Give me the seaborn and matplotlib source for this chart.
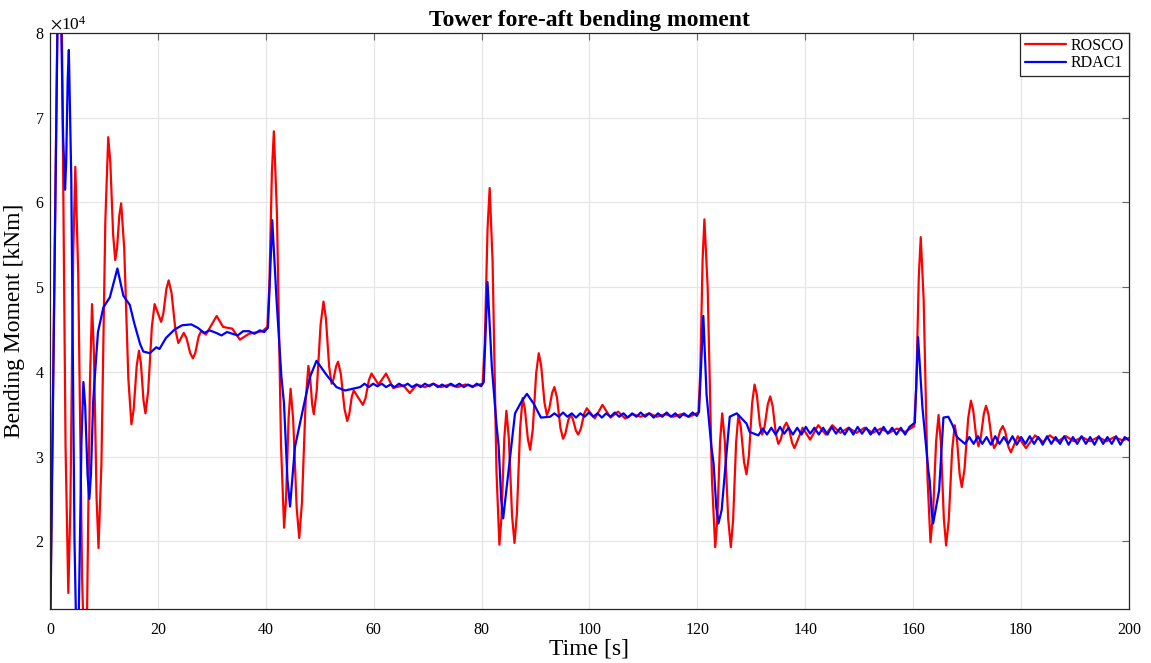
import numpy as np
import pandas as pd
import matplotlib
matplotlib.use("Agg")
import matplotlib.pyplot as plt
import seaborn as sns
from matplotlib.ticker import ScalarFormatter, MultipleLocator

# time [s] and fore-aft moment [kNm] (peaks, troughs, ripple)
ROSCO_T = [0.0, 1.7, 3.4, 4.7, 6.5, 7.8, 9.0, 10.8, 12.1, 13.2, 15.1, 16.5, 17.7, 19.4, 20.6, 22.0,
           23.8, 24.8, 26.5, 28.0, 28.9, 30.9, 32.1, 33.8, 35.2, 36.9, 39.4, 40.3,
           41.5, 43.4, 44.6, 46.2, 47.9, 48.9, 50.7, 52.2, 53.4, 55.1, 56.3, 58.0, 59.6, 60.9,
           62.3, 63.6, 65.5, 66.7, 68.0, 69.5, 71.0, 72.5, 74.0, 75.5, 77.0, 78.5, 80.2,
           81.5, 83.3, 84.6, 86.1, 87.6, 89.0, 90.6, 92.1, 93.5, 95.1, 96.5, 97.9, 99.5, 101.0,
           102.4, 103.9, 105.3, 106.6, 108.0, 109.5, 111.0, 112.5, 114.0, 115.5, 117.0, 118.5, 120.2,
           121.3, 123.3, 124.6, 126.2, 127.6, 129.1, 130.6, 132.0, 133.5, 135.0, 136.5, 138.0,
           139.5, 140.9, 142.4, 143.8, 145.0, 146.5, 148.0, 149.5, 151.0, 152.5, 154.0, 155.5,
           157.0, 158.5, 160.2,
           161.4, 163.2, 164.7, 166.1, 167.7, 169.0, 170.7, 172.1, 173.5, 175.0, 176.6, 178.1,
           179.4, 180.9, 182.6, 184.1, 185.3, 186.8, 188.3, 189.8, 191.3, 192.8, 194.3, 195.8,
           197.3, 198.8, 200.0]
ROSCO_M = [8000, 98000, 13900, 64200, 3000, 48000, 19200, 67700, 53200, 59900, 33800, 42500, 35100, 48000, 45900, 50800,
           43400, 44600, 41600, 44800, 44400, 46600, 45300, 45100, 43800, 44500, 44800, 45300,
           68400, 21600, 38000, 20400, 40700, 35000, 48300, 38600, 41200, 34200, 37800, 36100, 39800, 38500,
           39800, 38100, 38400, 37500, 38500, 38200, 38600, 38200, 38500, 38200, 38500, 38300, 38600,
           61700, 19600, 35400, 19800, 36900, 30800, 42200, 34900, 38200, 32100, 34900, 32600, 35700, 34500,
           36100, 34600, 35300, 34500, 35000, 34700, 35100, 34700, 35000, 34700, 35000, 34700, 35200,
           58000, 19300, 35100, 19300, 34900, 27900, 38500, 32600, 37100, 31500, 34000, 31000,
           33400, 32000, 33700, 32600, 33700, 32800, 33400, 32800, 33400, 32800, 33300, 32800,
           33300, 32900, 33600,
           55900, 19900, 34900, 19500, 33700, 26400, 36600, 31200, 36000, 31000, 33600, 30500,
           32400, 31000, 32500, 31700, 32500, 31800, 32400, 31800, 32300, 31800, 32300, 31800,
           32300, 31900, 32200]

# extra points on the flanks of the large ROSCO swings (so the waves look round)
ROSCO_FLANK_T = [2.21, 2.89, 3.79, 4.31, 5.24, 5.96, 6.89, 7.41, 8.16, 8.64, 9.54, 10.26,
                 11.19, 11.71, 12.43, 12.87, 13.77, 14.53, 15.52, 16.08, 16.86, 17.34, 18.21, 18.89,
                 21.02, 21.58, 22.54, 23.26, 25.31, 25.99, 26.95, 27.55,
                 40.66, 41.14, 42.07, 42.83, 43.76, 44.24, 45.08, 45.72, 46.71, 47.39, 48.2, 48.6,
                 49.44, 50.16, 51.15, 51.75, 52.56, 53.04, 53.91, 54.59, 55.46, 55.94, 58.48, 59.12,
                 80.59, 81.11, 82.04, 82.76, 83.69, 84.21, 85.05, 85.65, 86.55, 87.15, 88.02, 88.58,
                 89.48, 90.12, 91.05, 91.65, 92.52, 93.08, 93.98, 94.62, 95.52, 96.08, 96.92, 97.48,
                 98.38, 99.02,
                 120.53, 120.97, 121.9, 122.7, 123.69, 124.21, 125.08, 125.72, 126.62, 127.18,
                 128.05, 128.65, 129.55, 130.15, 131.02, 131.58, 132.45, 133.05, 133.95, 134.55,
                 135.45, 136.05, 136.95, 137.55,
                 160.56, 161.04, 161.94, 162.66, 163.65, 164.25, 165.12, 165.68, 166.58, 167.22,
                 168.09, 168.61, 169.51, 170.19, 171.12, 171.68, 172.52, 173.08, 173.95, 174.55,
                 175.48, 176.12, 177.05, 177.65]
ROSCO_FLANK_M = [80700, 31200, 24260, 53840, 51590, 15610, 12270, 38730, 42070, 25130, 29190, 57710,
                 64710, 56190, 54580, 58520, 54520, 39180, 35590, 40710, 40980, 36620, 37760, 45340,
                 46910, 49790, 49280, 44920, 43980, 42220, 42260, 44140,
                 50060, 63640, 58760, 31240, 24980, 34620, 34370, 24030, 24580, 36520, 39530, 36170,
                 37740, 45560, 46300, 40600, 39140, 40660, 39760, 35640, 34940, 37060, 36860, 39040,
                 43360, 56940, 53030, 28270, 22850, 32150, 32190, 23010, 23320, 33380, 35640, 32060,
                 33150, 39850, 40700, 36400, 35580, 37520, 36940, 33360, 32680, 34320, 34430, 33070,
                 33240, 35060,
                 39900, 53300, 50030, 27270, 22550, 31850, 31850, 22550, 22510, 31690,
                 33460, 29340, 30080, 36320, 37280, 33820, 33530, 36170, 35950, 32650,
                 32020, 33490, 33380, 31620,
                 38190, 51310, 48480, 27320, 22990, 31810, 31730, 22670, 22430, 30770,
                 32200, 27900, 28500, 34500, 35490, 32310, 32190, 35010, 34970, 32030,
                 31540, 33060, 32960, 31140]

RDAC1_T = [0.0, 1.6, 2.8, 3.5, 5.0, 6.2, 7.3, 8.3, 8.9, 9.9, 11.1, 12.5, 13.6, 14.8, 15.6, 16.7,
           17.3, 18.5, 19.7, 20.3, 21.5, 23.1, 24.5, 26.2, 27.4, 28.6, 29.6, 30.8, 31.8, 32.8, 33.8,
           34.8, 35.8, 36.9, 37.9, 38.9, 39.7, 40.4,
           41.2, 42.0, 42.9, 44.5, 45.4, 47.0, 48.2, 49.4, 51.3, 53.1, 54.7, 57.5,
           58.3, 59.1, 59.9, 60.7, 61.5, 62.3, 63.1, 63.9, 64.7, 65.5, 66.3, 67.1, 67.9, 68.7,
           69.5, 70.3, 71.1, 71.9, 72.7, 73.5, 74.3, 75.1, 75.9, 76.7, 77.5, 78.3, 79.1, 79.9, 80.4,
           81.1, 81.9, 82.8, 84.0, 85.3, 86.2, 87.4, 88.4, 89.6, 91.0, 92.7,
           93.5, 94.3, 95.1, 95.9, 96.7, 97.5, 98.3, 99.1, 99.9, 100.7, 101.5, 102.3, 103.1, 103.9,
           104.7, 105.5, 106.3, 107.1, 107.9, 108.7, 109.5, 110.3, 111.1, 111.9, 112.7, 113.5,
           114.3, 115.1, 115.9, 116.7, 117.5, 118.3, 119.1, 119.9, 120.3,
           121.1, 121.7, 122.6, 123.9, 124.5, 125.4, 126.0, 127.3, 128.2, 129.1, 129.7, 131.3,
           132.1, 132.9, 133.7, 134.5, 135.3, 136.1, 136.9, 137.7, 138.5, 139.3, 140.1, 140.9,
           141.7, 142.5, 143.3, 144.1, 144.9, 145.7, 146.5, 147.3, 148.1, 148.9, 149.7, 150.5,
           151.3, 152.1, 152.9, 153.7, 154.5, 155.3, 156.1, 156.9, 157.7, 158.5, 159.3, 160.3,
           160.9, 161.7, 162.8, 163.7, 164.8, 165.6, 166.5, 167.3, 168.1, 169.6,
           170.4, 171.2, 172.0, 172.8, 173.6, 174.4, 175.2, 176.0, 176.8, 177.6, 178.4, 179.2,
           180.0, 180.8, 181.6, 182.4, 183.2, 184.0, 184.8, 185.6, 186.4, 187.2, 188.0, 188.8,
           189.6, 190.4, 191.2, 192.0, 192.8, 193.6, 194.4, 195.2, 196.0, 196.8, 197.6, 198.4,
           199.2, 200.0]
RDAC1_M = [6000, 92000, 61500, 78000, 5000, 38800, 25000, 39300, 44700, 47600, 48800, 52200, 49000, 47900, 45800, 43300,
           42400, 42200, 42900, 42700, 44000, 45000, 45500, 45600, 45200, 44600, 44900, 44600, 44300, 44700, 44500,
           44300, 44800, 44800, 44500, 44900, 44700, 45200,
           57900, 48500, 39400, 24100, 31100, 35900, 39400, 41300, 39600, 38200, 37800, 38200,
           38600, 38200, 38600, 38300, 38600, 38200, 38500, 38200, 38600, 38300, 38600, 38200, 38500, 38200,
           38600, 38300, 38600, 38200, 38500, 38200, 38600, 38300, 38600, 38200, 38500, 38200, 38600, 38300, 38800,
           50600, 40600, 33500, 22700, 30000, 35100, 36500, 37400, 36300, 34600, 34700,
           35100, 34700, 35200, 34700, 35100, 34600, 35100, 34700, 35200, 34700, 35100, 34600, 35100, 34700,
           35200, 34700, 35100, 34600, 35100, 34700, 35200, 34700, 35100, 34600, 35100, 34700,
           35200, 34700, 35100, 34600, 35100, 34700, 35200, 34800, 35300,
           46600, 37300, 31100, 22100, 23700, 30400, 34700, 35100, 34500, 33900, 32900, 32500,
           33300, 32600, 33400, 32600, 33500, 32700, 33400, 32600, 33400, 32600, 33500, 32700,
           33400, 32600, 33400, 32600, 33500, 32700, 33400, 32600, 33400, 32600, 33500, 32700,
           33400, 32600, 33400, 32600, 33500, 32700, 33400, 32600, 33400, 32600, 33500, 34000,
           44100, 35900, 28400, 22100, 26000, 34600, 34700, 33700, 32300, 31500,
           32300, 31500, 32400, 31500, 32300, 31400, 32400, 31500, 32300, 31500, 32400, 31400,
           32300, 31500, 32400, 31500, 32300, 31400, 32400, 31500, 32300, 31500, 32400, 31400,
           32300, 31500, 32400, 31500, 32300, 31400, 32400, 31500, 32300, 31500, 32400, 31400,
           32300, 31900]

RDAC1_FLANK_T = [1.96, 2.44, 3.01, 3.29, 3.95, 4.55, 5.36, 5.84, 6.53, 6.97, 7.6, 8.0,
                 43.38, 44.02, 83.16, 83.64, 122.99, 123.51, 163.07, 163.43]
RDAC1_FLANK_M = [85720, 67780, 64900, 74600, 62960, 20040, 11960, 31840, 35960, 27840, 27950, 36350,
                 36250, 27250, 31280, 24920, 29250, 23950, 27100, 23400]

X_TICKS = [0, 20, 40, 60, 80, 100, 120, 140, 160, 180, 200]

sns.set_style("whitegrid")
plt.rcParams.update({
    "font.family": ["Liberation Serif", "DejaVu Serif"],
    "mathtext.fontset": "stix",
    "text.color": "black",
    "axes.labelcolor": "black",
})

df_rosco = pd.DataFrame({"time": ROSCO_T + ROSCO_FLANK_T, "moment": ROSCO_M + ROSCO_FLANK_M})
df_rdac = pd.DataFrame({"time": RDAC1_T + RDAC1_FLANK_T, "moment": RDAC1_M + RDAC1_FLANK_M})

fig = plt.figure(figsize=(11.51, 6.63), dpi=100)
ax = fig.add_axes([0.0434, 0.0814, 0.9375, 0.8688])

sns.lineplot(data=df_rosco, x="time", y="moment", color="#ff0000", linewidth=1.6,
             estimator=None, sort=True, label="ROSCO", ax=ax)
sns.lineplot(data=df_rdac, x="time", y="moment", color="#0000ff", linewidth=1.6,
             estimator=None, sort=True, label="RDAC1", ax=ax)
for ln in ax.lines:
    ln.set_solid_joinstyle("round")

ax.set_xlim(0, 200)
ax.set_ylim(12000, 80000)
ax.set_xticks(X_TICKS)
ax.yaxis.set_major_locator(MultipleLocator(10000))

fmt = ScalarFormatter(useMathText=True)
fmt.set_powerlimits((0, 0))
ax.yaxis.set_major_formatter(fmt)
ax.yaxis.get_offset_text().set_fontsize(12.5)

ax.grid(True, color="#e6e6e6", linewidth=0.9)
ax.tick_params(axis="both", which="major", labelsize=11.5, direction="in",
               length=5, color="#666666", labelcolor="black", top=True, right=True)
ax.tick_params(axis="x", pad=9)
ax.tick_params(axis="y", pad=4)
for side in ["left", "right", "top", "bottom"]:
    ax.spines[side].set_visible(True)
    ax.spines[side].set_color("#262626")
    ax.spines[side].set_linewidth(0.9)

ax.set_title("Tower fore-aft bending moment", fontsize=17, fontweight="bold", pad=5)
ax.set_xlabel("Time [s]", fontsize=17, labelpad=1)
ax.set_ylabel("Bending Moment [kNm]", fontsize=17, labelpad=7)

leg = ax.legend(loc="upper right", fontsize=11.5, frameon=True, fancybox=False,
                borderaxespad=0.0, handlelength=2.6, handletextpad=0.3,
                borderpad=0.3, labelspacing=0.1)
leg.get_frame().set_edgecolor("#262626")
leg.get_frame().set_linewidth(0.9)
leg.get_frame().set_alpha(1.0)

fig.savefig("out.png", dpi=100)
